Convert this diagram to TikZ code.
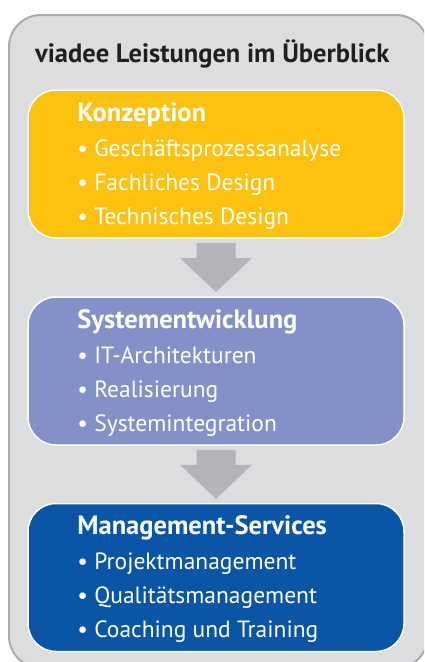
\documentclass[tikz,border=0pt]{standalone}
\usepackage{fontspec}
\setmainfont{PT Sans}
\usetikzlibrary{calc}

\definecolor{rahmenGrau}{HTML}{A9ABAE}
\definecolor{hintergrund}{HTML}{DCDDDF}
\definecolor{pfeilGrau}{HTML}{B2B4B7}
\definecolor{gelb}{HTML}{FDC210}
\definecolor{lila}{HTML}{8391C8}
\definecolor{blau}{HTML}{0A55A6}
\definecolor{titelSchwarz}{HTML}{231F20}

\begin{document}
\begin{tikzpicture}
[x=1pt,y=-1pt,
  boxDecorate/.style={draw=white,line width=1.5pt,rounded corners=28pt,
    minimum width=376pt,minimum height=148pt,inner sep=0pt},%
  arrowDecorate/.style={fill=pfeilGrau,draw=none},%
  headDecorate/.style={anchor=base west,inner sep=0pt,text=white,
    font=\fontsize{26.5}{30}\selectfont\bfseries},%
  itemDecorate/.style={anchor=base west,inner sep=0pt,text=white,
    font=\fontsize{23.5}{28}\selectfont}]
\useasboundingbox (0,0) rectangle (424,662);
\clip (0,0) rectangle (424,662);
%% outer frame and title
\draw[fill=hintergrund,draw=rahmenGrau,line width=2pt,rounded corners=32pt]
  (9,15) rectangle (428,668);
\node[anchor=base west,inner sep=0pt,text=titelSchwarz,
  font=\fontsize{26.5}{30}\selectfont\bfseries] (titel) at (35,62)
  {viadee Leistungen im Überblick};
%% boxes
\foreach \name/\y/\farbe in {
  konzeption/164/gelb, entwicklung/371/lila, services/577.5/blau}
{
  \node[boxDecorate,fill=\farbe] (\name) at (216,\y) {};
}
%% texts in the boxes
\foreach \name/\kopf/\eins/\zwei/\drei in {
  konzeption/Konzeption/Geschäftsprozessanalyse/Fachliches Design/Technisches Design,
  entwicklung/Systementwicklung/IT-Architekturen/Realisierung/Systemintegration,
  services/Management-Services/Projektmanagement/Qualitätsmanagement/Coaching und Training}
{
  \node[headDecorate] (\name-kopf) at ([shift={(50,32)}]\name.north west) {\kopf};
  \node[itemDecorate] (\name-eins) at ([shift={(50,67)}]\name.north west) {• \eins};
  \node[itemDecorate] (\name-zwei) at ([shift={(50,101)}]\name.north west) {• \zwei};
  \node[itemDecorate] (\name-drei) at ([shift={(50,135)}]\name.north west) {• \drei};
}
%% arrows between the boxes
\foreach \von/\nach/\pfeil in {konzeption/entwicklung/pfeilA, entwicklung/services/pfeilB}
{
  \coordinate (\pfeil) at ($(\von.south)!0.5!(\nach.north)$);
  \fill[arrowDecorate] (\pfeil) ++(-19.5,-24.5) -- ++(39,0) -- ++(0,15)
    -- ++(16.5,0) -- ++(-36,34) -- ++(-36,-34) -- ++(16.5,0) -- cycle;
}
\end{tikzpicture}
\end{document}
